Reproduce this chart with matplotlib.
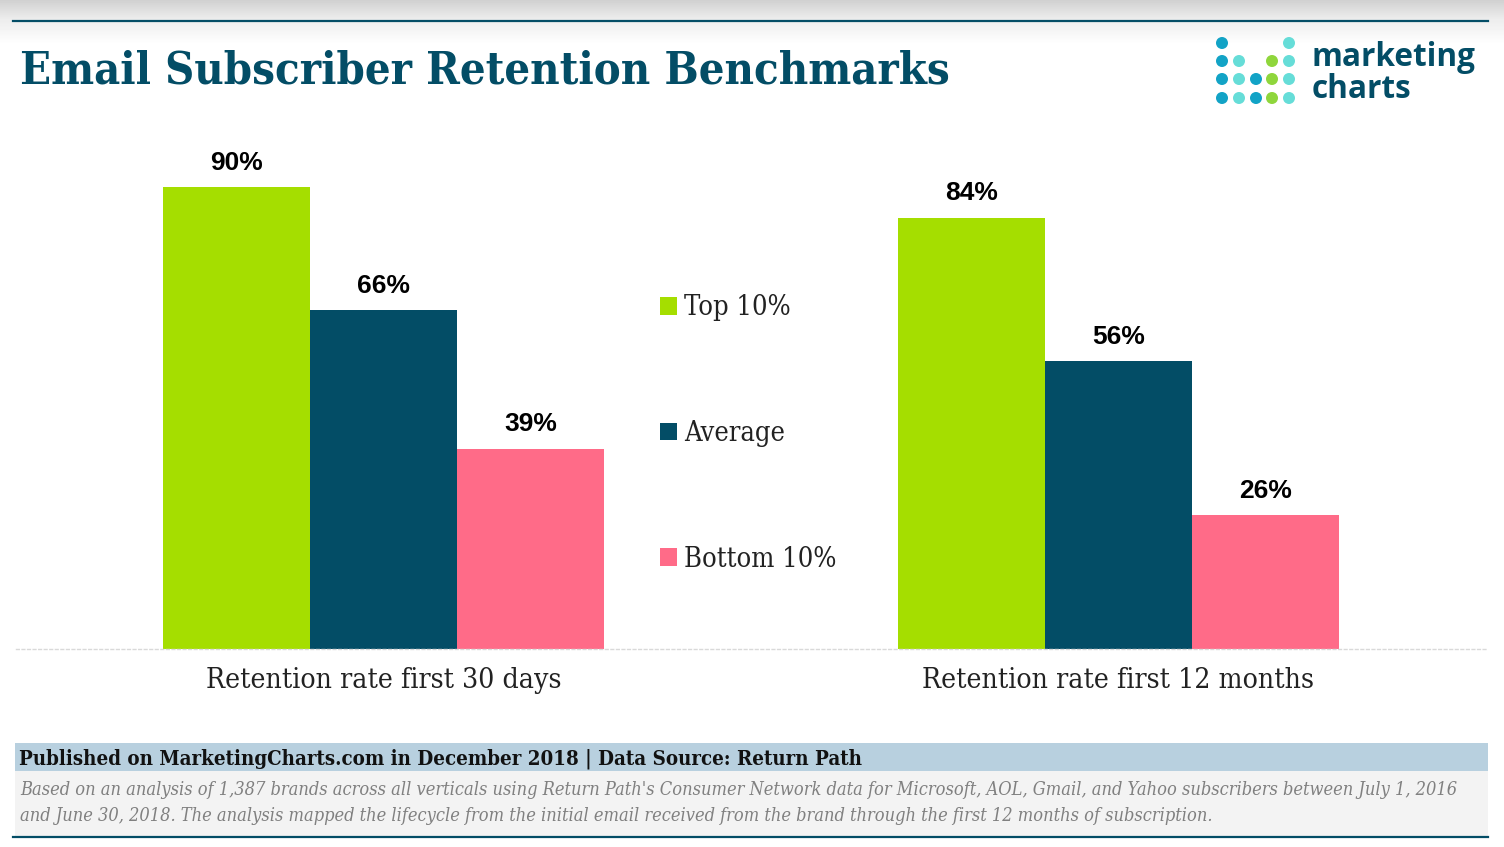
# coding: utf-8

import numpy as np
import matplotlib
matplotlib.use('Agg')
import matplotlib.pyplot as plt
from matplotlib.patches import Patch, Rectangle, Circle

categories = ['Retention rate first 30 days', 'Retention rate first 12 months']
series_names = ['Top 10%', 'Average', 'Bottom 10%']
top_10 = [90, 84]
average = [66, 56]
bottom_10 = [39, 26]

title = 'Email Subscriber Retention Benchmarks'
source = 'Published on MarketingCharts.com in December 2018 | Data Source: Return Path'
note_1 = ("Based on an analysis of 1,387 brands across all verticals using Return Path's Consumer Network data "
          "for Microsoft, AOL, Gmail, and Yahoo subscribers between July 1, 2016")
note_2 = ('and June 30, 2018. The analysis mapped the lifecycle from the initial email received '
          'from the brand through the first 12 months of subscription.')

GREEN = '#a5de00'
NAVY = '#034d66'
PINK = '#ff6b88'
W, H = 1504, 847

plt.rcParams['font.family'] = ['DejaVu Serif']
plt.rcParams['font.stretch'] = 'condensed'

fig = plt.figure(figsize=(W/100, H/100), dpi=100, facecolor='white')

# page furniture in pixel coords
bg = fig.add_axes([0, 0, 1, 1], zorder=0)
grad = np.concatenate([np.linspace(0.82, 0.93, 20), np.linspace(0.93, 1.0, 25)]).reshape(-1, 1)
bg.imshow(grad, extent=[0, W, 45, 0], cmap='gray', vmin=0, vmax=1, aspect='auto', zorder=1)
bg.set_xlim(0, W)
bg.set_ylim(H, 0)
bg.axis('off')
bg.plot([13, 1488], [21, 21], color=NAVY, lw=1.6, zorder=2)
bg.add_patch(Rectangle((15, 743), 1473, 28, fc='#b8d0df', ec='none', zorder=1))
bg.add_patch(Rectangle((15, 771), 1473, 66, fc='#f3f3f3', ec='none', zorder=1))
bg.plot([13, 1488], [837, 837], color=NAVY, lw=1.6, zorder=2)

bg.text(20, 71, title, fontsize=32.5, fontweight='bold', color=NAVY, va='center', ha='left')
bg.text(19, 759, source, fontsize=14.65, fontweight='bold', color='#111111', va='center', ha='left')
bg.text(20, 790, note_1, fontsize=13.1, fontstyle='italic', color='#808080', va='center', ha='left')
bg.text(20, 816, note_2, fontsize=13.1, fontstyle='italic', color='#808080', va='center', ha='left')

# logo
BLUE_DOT = '#12a3c6'
TEAL_DOT = '#66ddd8'
LIME_DOT = '#8fd63c'
logo_cols = [1222, 1239, 1256, 1272, 1289]
logo_rows = [43, 61, 79, 98]
logo_cells = [[BLUE_DOT, None, None, None, TEAL_DOT],
              [BLUE_DOT, TEAL_DOT, None, LIME_DOT, TEAL_DOT],
              [BLUE_DOT, TEAL_DOT, BLUE_DOT, LIME_DOT, TEAL_DOT],
              [BLUE_DOT, TEAL_DOT, BLUE_DOT, LIME_DOT, TEAL_DOT]]
for r, row in enumerate(logo_cells):
    for c, col in enumerate(row):
        if col is not None:
            bg.add_patch(Circle((logo_cols[c], logo_rows[r]), 6, fc=col, ec='none', zorder=2))
bg.text(1311, 58, 'marketing', family='Open Sans', stretch='normal', fontsize=22.7, fontweight='bold',
        color=NAVY, va='center', ha='left')
bg.text(1312, 90, 'charts', family='Open Sans', stretch='normal', fontsize=22.7, fontweight='bold',
        color=NAVY, va='center', ha='left')

# chart
ax = fig.add_axes([16.2/W, 1-648.5/H, 1469.6/W, 480/H], zorder=1)
ax.patch.set_alpha(0)
x = np.arange(len(categories))
width = 0.2
for i, (vals, color, name) in enumerate(zip([top_10, average, bottom_10], [GREEN, NAVY, PINK], series_names)):
    bars = ax.bar(x + (i-1)*width, vals, width, color=color, label=name)
    for rect, v in zip(bars, vals):
        ax.text(rect.get_x() + rect.get_width()/2, v + 2.4, '%d%%' % v, family='Liberation Sans',
                stretch='normal', fontsize=19, fontweight='bold', color='black', ha='center', va='bottom')

ax.set_xlim(-0.5, 1.5)
ax.set_ylim(0, 480/(461.5/90))
ax.set_yticks([])
ax.set_xticks(x)
ax.set_xticklabels(categories, fontsize=20.3, color='#222222')
ax.tick_params(axis='x', length=0, pad=13)
for s in ['top', 'left', 'right']:
    ax.spines[s].set_visible(False)
ax.spines['bottom'].set_color('#d9d9d9')
ax.spines['bottom'].set_linestyle((0, (2, 2)))
ax.spines['bottom'].set_linewidth(1)

handles = [Patch(fc=c, ec='none') for c in [GREEN, NAVY, PINK]]
leg = ax.legend(handles, series_names, loc='center left', bbox_to_anchor=((660-16.2)/1469.6, (648.5-433.5)/480),
                frameon=False, fontsize=19.5, labelspacing=3.64, handlelength=0.62, handleheight=0.62,
                handletextpad=0.26, borderpad=0, borderaxespad=0, labelcolor='#222222')

fig.savefig('out.png', dpi=100)
